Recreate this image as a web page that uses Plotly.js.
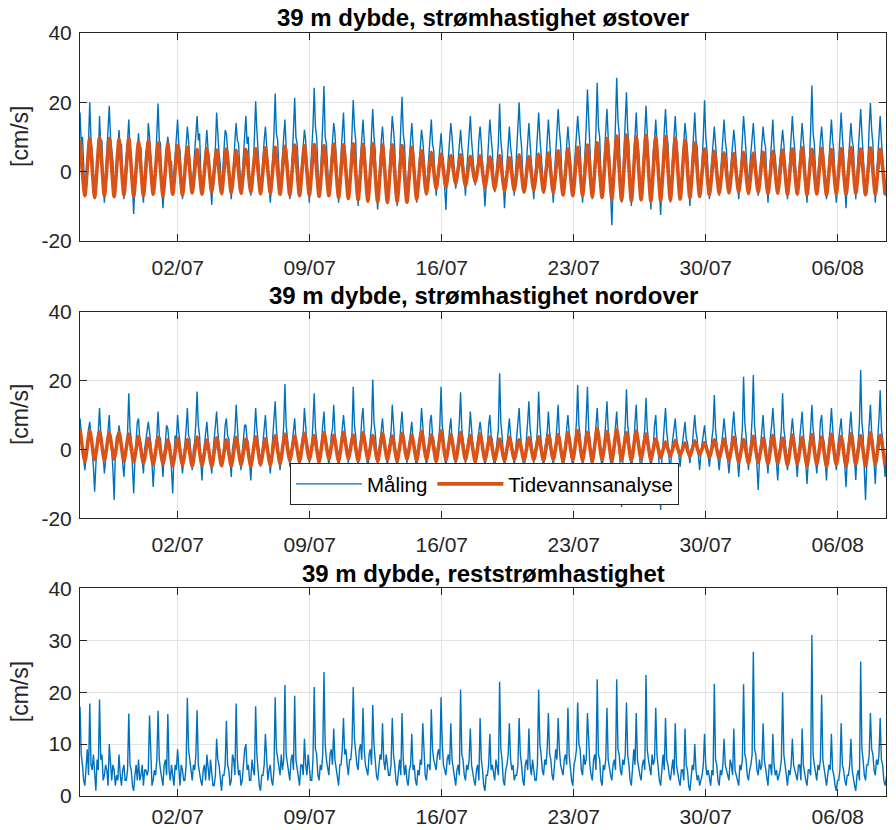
<!DOCTYPE html>
<html>
<head>
<meta charset="utf-8">
<script src="https://cdn.plot.ly/plotly-3.0.1.min.js"></script>
<style>
  html, body { margin: 0; padding: 0; background: #fff; }
  #chart { width: 896px; height: 830px; }
</style>
</head>
<body>
<div id="chart"></div>
<script>
// Strømmåling 39 m dybde: måling vs. tidevannsanalyse
// Måleserier lest av figuren, åtte punkt per M2-periode (1.5525 t)
// Tidevann: topp/bunn per halve M2-periode (6.21 t)

const startTid = Date.UTC(2020, 5, 26, 19, 36);
const time = 3600000;
const steg_maal = 1.5525 * time;
const steg_tide = 6.21 * time;
const xOmraade = ['2020-06-26 19:36', '2020-08-08 13:26'];

const titler = [
  '39 m dybde, strømhastighet østover',
  '39 m dybde, strømhastighet nordover',
  '39 m dybde, reststrømhastighet'
];
const enhet = '[cm/s]';
const navn = ['Måling', 'Tidevannsanalyse'];

// y-aksemerker
const yVerdi12 = [-20, 0, 20, 40];
const yTekst12 = ['-20', '0', '20', '40'];
const yVerdi3 = [0, 10, 20, 30, 40];
const yTekst3 = ['0', '10', '20', '30', '40'];

// østover, måling [cm/s]
const ostMaal = [
  17,8,10,2,-6,-2,3,9, 20,9,6,-1,-8,-3,4,2,
  16,7,9,-4,-9,-1,5,12, 19,10,7,3,-7,-5,1,6,
  12,6,8,-3,-8,0,4,9, 15,7,5,-6,-12.3,-4,2,7,
  11,5,7,-5,-9,-2,6,4, 14,10,4,1,-7,-3,2,11,
  19.6,9,8,-4,-10.6,-5,3,7, 10,7,2,3,-6,0,4,9,
  15,8,6,-1,-8,-4,3,6, 13,9,3,-2,-5,1,5,10,
  16,9,11,0,-7,-3,2,8, 12,6,4,-4,-9.7,-2,3,7,
  17,10,5,2,-6,0,6,12, 11,7,3,-3,-8,-4,2,9,
  14,9,8,1,-5,-1,4,8, 16,8,10,-2,-7,-3,1,10,
  20.3,12,7,0,-6,-2,5,9, 13,8,3,-3,-9,-4,2,11,
  22.5,11,9,1,-6,-1,6,10, 15,7,4,-2,-8,-3,3,12,
  21.3,10,8,-1,-5,-2,2,8, 12,9,3,-4,-9,0,5,13,
  24.2,13,10,0,-7,-3,4,14, 24.7,10,8,-1,-6,-2,3,9,
  14,11,5,-3,-9,-1,6,10, 17,8,4,-2,-7,-4,2,12,
  20.6,13,9,-3,-10,-2,5,8, 15,9,3,-4,-8,-5,1,11,
  18,10,6,-5,-11,-3,4,9, 13,8,4,-3,-9,-4,2,10,
  16,12,7,-2,-10,-3,3,13, 21.6,11,8,-1,-8,-2,5,9,
  14,7,3,-4,-9,-5,2,8, 12,9,5,-1,-6,-1,4,10,
  15,8,6,-2,-7,-2,3,7, 11,6,2,-5,-11.1,-1,5,9,
  14,10,6,0,-5,-2,3,8, 12,7,4,-2,-7,0,6,11,
  16,9,5,0,-4,-1,2,9, 13,8,3,-4,-10.1,-3,4,10,
  15,10,6,-1,-6,-2,3,8, 19.6,9,5,-4,-10.6,-4,2,9,
  13,7,4,-2,-7,-1,5,11, 20,11,7,-1,-6,-3,3,8,
  14,8,3,-3,-8,-2,4,12, 17,10,6,0,-5,-2,2,9,
  15,9,4,-3,-9,-1,6,11, 18,12,8,-1,-7,-3,3,10,
  13,8,4,-2,-6,0,5,9, 16,11,7,-2,-9,-2,4,13,
  23.7,14,9,-1,-8,-3,3,12, 25.6,13,10,0,-7,-1,6,11,
  18,10,5,-6,-15.5,-5,2,14, 27.1,15,11,-2,-9,-2,5,13,
  22.9,12,8,-3,-10,-3,4,10, 17,9,6,-2,-8,-3,3,11,
  19,12,7,-3,-11,-2,6,9, 15,8,4,-5,-12.6,-4,2,12,
  18,11,8,-2,-9,-1,5,10, 16,9,5,-3,-8,-3,3,8,
  14,10,6,-3,-10,-2,4,11, 17,9,7,-1,-7,-4,2,10,
  20.6,10,6,-2,-8,-1,5,8, 13,7,4,-2,-7,-2,3,9,
  15,9,6,-1,-6,-1,4,10, 12,8,3,-3,-8,-4,2,7,
  16,11,5,0,-5,1,6,9, 14,8,4,-2,-7,-2,3,11,
  13,9,7,-2,-9,-3,2,8, 15,7,4,-1,-6,0,5,9,
  12,8,3,-3,-8,-2,4,10, 16,10,6,-1,-7,-3,2,7,
  14,9,5,-3,-9,-2,3,12, 24.8,11,8,0,-6,-1,5,9,
  13,7,4,-2,-8,-3,3,10, 15,9,6,-3,-9,-4,2,11,
  17,10,5,-4,-10.6,-2,4,9, 14,9,7,-1,-8,-1,5,12,
  18,11,6,-1,-7,-3,3,13, 19.8,12,8,-2,-9,-2,4,10,
  16,9,5,-1,-7,-2,3,8
];

// østover, tidevannsanalyse [cm/s]
const ostTide = [
  9,-7, 9.5,-7.5, 9.8,-7, 9.5,-7.3, 9.2,-6.8, 9.5,-7.2,
  8.5,-7, 8.8,-6.5, 8.2,-7, 8,-6.6, 7.5,-6.8, 7,-6.2,
  6.3,-6.5, 6.6,-6, 6.2,-6.4, 6.5,-6.1, 6.1,-6.3, 6.4,-6,
  6.6,-6.4, 6.8,-6.2, 7,-6.6, 7.3,-6.8, 7.6,-7, 7.4,-6.9,
  7.8,-7.2, 7.5,-7, 7.9,-7.5, 7.7,-7.8, 8,-8.2, 7.8,-8.6,
  8,-8.8, 7.6,-9, 7.7,-8.7, 7.5,-8.9, 7,-8, 6,-6.5,
  5.5,-5, 5,-4.5, 4.6,-3.5, 4.8,-4.2, 4.4,-3, 4.5,-4.6,
  4.2,-5.2, 4.6,-5.6, 4,-5.5, 4.8,-6, 4.3,-5.4, 5,-6,
  5.4,-6.2, 6,-6.8, 6.5,-7, 7,-6.9, 7.6,-7.3, 8.3,-7.5,
  9.5,-8, 10.2,-8.3, 10.5,-8.5, 10,-8.2, 10.4,-8.6, 9.8,-8.4,
  10.1,-8.2, 9.6,-8, 9,-7.6, 8.2,-7.2, 6.5,-6.8, 5.8,-6.4,
  5.4,-6.2, 5.2,-6, 5.5,-6.4, 5.3,-6.1, 5.6,-6.5, 5.8,-6.3,
  6.2,-6.6, 6.5,-6.4, 6.8,-6.7, 6.4,-6.5, 6.7,-6.8, 6.3,-6.4,
  6.6,-6.6, 6.9,-6.3, 6.5,-6.7, 6.8,-6.5, 6.4,-6.6
];

// nordover, måling [cm/s]
const nordMaal = [
  9,4,2,-3,-6,-1,4,6, 8,3,1,-5,-12.3,-2,3,5,
  12,5,3,-2,-7,-3,2,7, 10,2,0,-6,-14.7,-1,4,3,
  7,4,2,-4,-8,-2,1,5, 16.3,6,3,-5,-12.8,-3,2,8,
  9,3,1,-3,-7,0,3,6, 8,5,2,-4,-10.9,-4,0,4,
  11,4,3,-2,-8,-1,2,7, 6,2,1,-6,-12.8,-2,4,3,
  10,5,2,-3,-7,-3,1,6, 12,4,3,-1,-6,0,2,8,
  16.8,7,4,-3,-9,-2,1,5, 8,3,0,-4,-7,-1,3,6,
  11,5,2,-1,-5,-2,1,7, 9,4,3,-3,-8,0,2,5,
  13,5,1,-2,-6,-1,4,7, 7,3,2,-4,-9,-3,0,5,
  12,6,3,-1,-5,0,2,6, 10,4,1,-3,-7,-1,3,8,
  14,6,2,-2,-6,-2,1,7, 19,7,4,0,-5,-1,2,6,
  9,3,1,-3,-7,0,3,5, 12,5,2,0,-4,-1,1,8,
  16.3,6,3,-2,-6,-1,2,7, 11,4,2,-1,-5,1,4,6,
  13,5,1,-2,-6,-2,2,8, 10,6,3,0,-4,0,1,5,
  18.2,7,4,-1,-5,-1,2,9, 12,5,2,-2,-6,0,3,7,
  20.3,8,5,0,-4,-1,2,6, 9,4,1,-2,-5,0,3,5,
  13,6,2,-2,-6,-2,1,7, 11,5,3,0,-4,-1,2,6,
  8,3,1,-3,-7,0,3,5, 12,5,2,-1,-5,-2,1,8,
  10,4,3,0,-4,0,2,7, 18.2,7,4,-2,-6,-1,1,6,
  9,3,2,-1,-5,0,3,8, 16.6,6,3,0,-4,-1,2,5,
  11,4,1,-2,-6,0,3,6, 8,5,2,-1,-5,-2,1,7,
  10,4,3,-3,-7,-1,2,6, 22.1,8,4,-2,-6,-1,1,5,
  9,4,2,-1,-5,0,3,7, 12,5,1,-3,-7,-2,2,8,
  14,6,3,0,-4,-1,1,6, 16.8,7,2,-2,-6,0,3,5,
  11,5,3,-1,-5,-1,2,7, 13,4,1,-3,-8,-2,2,6,
  10,5,2,-2,-6,0,3,8, 18.7,7,4,-1,-5,-2,1,9,
  18.2,6,3,-3,-7,-1,2,7, 12,5,2,-2,-6,0,3,8,
  14,6,1,-4,-9,-2,2,6, 11,4,2,-6,-16.7,-3,3,7,
  17.5,7,4,-3,-7,-2,1,8, 13,5,2,-3,-8,-1,2,6,
  15,6,3,-2,-6,-2,1,7, 10,3,1,-7,-17.6,-3,2,5,
  12,5,2,-3,-7,0,3,6, 9,4,1,-2,-5,-1,2,5,
  8,3,2,-1,-4,0,1,6, 10,5,3,-2,-6,-1,2,4,
  7,3,1,-2,-5,0,3,6, 15.8,6,2,-2,-6,-2,1,5,
  9,4,1,-3,-7,-1,2,7, 11,5,3,-3,-8,-3,1,6,
  21.1,8,4,-2,-6,-1,2,9, 21.6,7,3,-5,-11.8,-3,1,6,
  10,4,2,-3,-7,0,3,7, 12,5,1,-4,-9,-2,2,6,
  16.3,6,3,-2,-6,-2,1,5, 9,4,2,-3,-8,-1,3,7,
  11,5,1,-4,-10,-3,2,6, 13,6,3,-3,-7,-2,1,8,
  10,4,2,-4,-9,-1,2,6, 12,5,1,-2,-6,0,3,7,
  9,3,2,-5,-11,-3,1,5, 11,5,3,-3,-8.9,-1,2,8,
  23.1,8,4,-6,-14.7,-4,1,7, 13,5,2,-4,-10,-2,3,9,
  17.2,6,3,-3,-8,-1,2,6
];

// nordover, tidevannsanalyse [cm/s]
const nordTide = [
  6,-3.5, 5.5,-3, 5.2,-3.2, 4.8,-2.8, 5,-3.4, 4.5,-3.6,
  3.8,-4, 3.2,-4.4, 3.5,-4.2, 2.8,-4.8, 3.3,-4.5, 2.9,-4.9,
  3.6,-4.6, 2.7,-5, 3.4,-4.7, 2.8,-4.8, 3.5,-4.5, 3,-4.9,
  3.7,-4.4, 3.1,-4.6, 4,-4.2, 4.5,-3.2, 3.8,-3.5, 4.7,-3,
  4,-3.6, 4.9,-2.8, 4.1,-3.4, 5,-2.7, 4.2,-3.3, 4.8,-2.9,
  4,-3.5, 4.6,-3, 3.9,-3.4, 4.7,-2.8, 4.1,-3.2, 5.2,-2.9,
  4.2,-3.5, 5.4,-3.1, 4.3,-3.3, 4.9,-3, 4,-3.6, 4.5,-3.1,
  3.6,-3.1, 3,-3.3, 3.5,-2.9, 2.8,-3.2, 3.4,-3, 3.7,-3.3,
  4,-3, 4.3,-3.4, 4.8,-3.1, 5.5,-3.2, 5,-3.5, 6,-3,
  5.2,-3.4, 5.8,-3.1, 4.9,-3.3, 5.3,-2.8, 4.5,-3, 3,-2.4,
  2.2,-2, 2.6,-1.7, 1.9,-2.2, 2.5,-1.6, 2,-2.3, 2.8,-2.6,
  3,-3.2, 3.5,-3.6, 2.9,-4, 3.8,-3.8, 3.2,-4.3, 4,-4,
  3.3,-4.6, 4.2,-4.2, 3.5,-4.8, 4.4,-4.4, 3.6,-5, 4.5,-4.5,
  3.8,-4.9, 4.6,-4.4, 4,-4.8, 4.8,-4.3, 4.2,-4.5
];

// reststrømhastighet [cm/s]
const rest = [
  17.2,8,6,3,2,5,9,4, 17.8,6,5,8,3,1,7,5,
  18.6,7,8,3,4,6,5,2, 10,5,3,6,5,2,4,3,
  8,4,2,5,6,3,3,5, 15.9,6,5,2,1,4,6,3,
  7,3,4,6,2,5,5,4, 5,15.5,6,2,3,5,4,7,
  16.4,7,5,3,2,6,7,4, 15.8,5,3,6,4,2,6,5,
  9,4,2,6,5,3,3,6, 18.9,9,7,4,3,6,5,8,
  16.5,6,4,3,2,5,6,3, 8,5,3,7,5,2,2,4,
  11,7,6,3,1,4,4,6, 14.5,6,5,2,3,8,7,4,
  17.8,7,4,5,2,3,6,9, 10,5,6,3,3,7,5,4,
  17.3,8,5,2,1,4,4,6, 12,6,3,5,6,3,2,5,
  19,9,7,5,4,8,5,7, 21.4,8,6,4,3,7,8,5,
  19.3,7,5,3,2,6,6,4, 11,6,4,8,6,3,3,7,
  21,9,8,4,3,6,5,8, 23.9,10,7,5,4,8,9,6,
  13,7,5,3,2,6,6,9, 15,8,9,6,4,7,7,10,
  21,11,8,6,5,9,10,7, 17,9,6,5,4,8,9,6,
  17.5,10,7,4,3,6,8,7, 14,7,5,8,6,4,4,6,
  15,8,6,3,2,5,7,4, 16,7,4,6,3,2,5,6,
  12,5,6,3,2,5,4,7, 6,14,7,4,3,6,6,5,
  16.7,9,7,6,5,8,9,7, 19,10,6,5,4,7,8,6,
  14,7,5,3,2,5,6,4, 20.5,8,7,4,3,6,5,7,
  13,6,4,3,2,5,6,3, 15,7,5,2,1,4,4,6,
  12,5,6,4,3,7,5,4, 22,9,7,3,2,5,6,8,
  14,7,5,6,3,4,4,6, 15,8,6,3,2,6,7,5,
  13,6,4,7,5,3,3,6, 20.5,10,8,5,4,7,6,9,
  16,8,7,4,3,6,9,7, 15,9,6,5,4,7,8,6,
  17,8,5,3,2,6,7,9, 18,10,9,5,4,8,6,7,
  16,9,6,4,3,7,8,5, 22.5,8,7,3,2,6,5,7,
  17,7,5,4,3,6,7,5, 22.5,9,8,5,4,7,6,8,
  18,8,6,3,2,7,9,6, 16,7,5,4,3,6,7,5,
  23.3,9,7,5,4,8,6,7, 17,8,5,3,2,6,8,5,
  15,7,6,4,3,5,7,4, 14,6,4,3,2,5,5,3,
  13,6,5,2,1,4,6,5, 10,5,3,4,2,3,4,6,
  12,6,4,5,3,2,5,4, 21.6,7,6,3,2,5,4,6,
  11,6,5,4,3,7,6,4, 13,5,4,3,2,6,5,7,
  21.5,8,7,4,3,5,6,8, 27.8,9,8,5,4,7,5,6,
  14,7,5,3,2,6,6,4, 12,6,4,5,3,4,5,7,
  20,8,6,3,2,5,4,6, 11,6,5,4,3,6,6,3,
  13,6,4,3,2,5,5,4, 31,8,6,4,3,6,5,7,
  19.5,7,5,3,2,4,6,5, 12,5,4,2,1,3,3,5,
  14,6,5,3,2,4,4,6, 11,5,3,2,1,4,5,3,
  25.9,9,7,4,3,6,6,8, 16,9,8,5,4,7,6,8,
  15,7,6,3,2,4,5,2
];

const tMaal = ostMaal.map((_, i) => startTid + i * steg_maal);
const tTide = ostTide.map((_, i) => startTid + i * steg_tide);

const blaa = '#0072BD';
const oransje = '#D95319';
const font = 'Liberation Sans, Arial, Helvetica, sans-serif';
const mork = '#262626';

function maaling(y, xa, ya, vis) {
  return {
    x: tMaal, y: y, xaxis: xa, yaxis: ya,
    type: 'scatter', mode: 'lines', name: navn[0],
    line: { color: blaa, width: 1.4 },
    showlegend: vis
  };
}
function tidevann(y, xa, ya, vis) {
  return {
    x: tTide, y: y, xaxis: xa, yaxis: ya,
    type: 'scatter', mode: 'lines', name: navn[1],
    line: { color: oransje, width: 3.6, shape: 'spline', smoothing: 0.6 },
    showlegend: vis
  };
}

const data = [
  maaling(ostMaal, 'x', 'y', false),
  tidevann(ostTide, 'x', 'y', false),
  maaling(nordMaal, 'x2', 'y2', true),
  tidevann(nordTide, 'x2', 'y2', true),
  maaling(rest, 'x3', 'y3', false)
];

function xAkse(anker, avstand) {
  return {
    anchor: anker, domain: [0, 1], type: 'date',
    range: xOmraade,
    tick0: '2020-07-02', dtick: 7 * 86400000, tickformat: '%d/%m',
    ticks: 'inside', ticklen: 7, tickcolor: mork,
    showline: true, linecolor: mork, linewidth: 1, mirror: 'ticks',
    showgrid: true, gridcolor: '#e3e3e3', zeroline: false,
    tickfont: { family: font, size: 21, color: mork },
    ticklabelstandoff: avstand
  };
}
function yAkse(anker, dom, omr, verdier, tekster) {
  return {
    anchor: anker, domain: dom, range: omr,
    tickmode: 'array', tickvals: verdier, ticktext: tekster,
    ticks: 'inside', ticklen: 7, tickcolor: mork,
    showline: true, linecolor: mork, linewidth: 1, mirror: 'ticks',
    showgrid: true, gridcolor: '#e3e3e3', zeroline: false,
    tickfont: { family: font, size: 21, color: mork },
    ticklabelstandoff: 3
  };
}

const domener = [[0.7278, 1.0], [0.3640, 0.6347], [0, 0.2722]];
const tittelY = [1.020, 0.656, 0.292];

const annotations = [];
titler.forEach((t, i) => {
  annotations.push({
    text: t, xref: 'paper', yref: 'paper', x: 0.5, y: tittelY[i],
    xanchor: 'center', yanchor: 'middle', showarrow: false,
    font: { family: font, size: 24, color: '#000', weight: 'bold' }
  });
  annotations.push({
    text: enhet, xref: 'paper', yref: 'paper', x: -0.0744,
    y: (domener[i][0] + domener[i][1]) / 2,
    xanchor: 'center', yanchor: 'middle', textangle: -90, showarrow: false,
    font: { family: font, size: 23, color: mork }
  });
});

const layout = {
  width: 896, height: 830,
  margin: { l: 80, r: 10, t: 33, b: 34 },
  paper_bgcolor: '#fff', plot_bgcolor: '#fff',
  showlegend: true,
  xaxis: xAkse('y', 8), xaxis2: xAkse('y2', 8), xaxis3: xAkse('y3', 2),
  yaxis: yAkse('x', domener[0], [-20, 40], yVerdi12, yTekst12),
  yaxis2: yAkse('x2', domener[1], [-20, 40], yVerdi12, yTekst12),
  yaxis3: yAkse('x3', domener[2], [0, 40], yVerdi3, yTekst3),
  legend: {
    orientation: 'h', x: 0.2605, y: 0.4364, xanchor: 'left', yanchor: 'top',
    bgcolor: '#fff', bordercolor: mork, borderwidth: 1,
    font: { family: font, size: 20.5, color: '#000' },
    itemwidth: 66, tracegroupgap: 0
  },
  annotations: annotations
};

Plotly.newPlot('chart', data, layout, { staticPlot: true });
</script>
</body>
</html>
